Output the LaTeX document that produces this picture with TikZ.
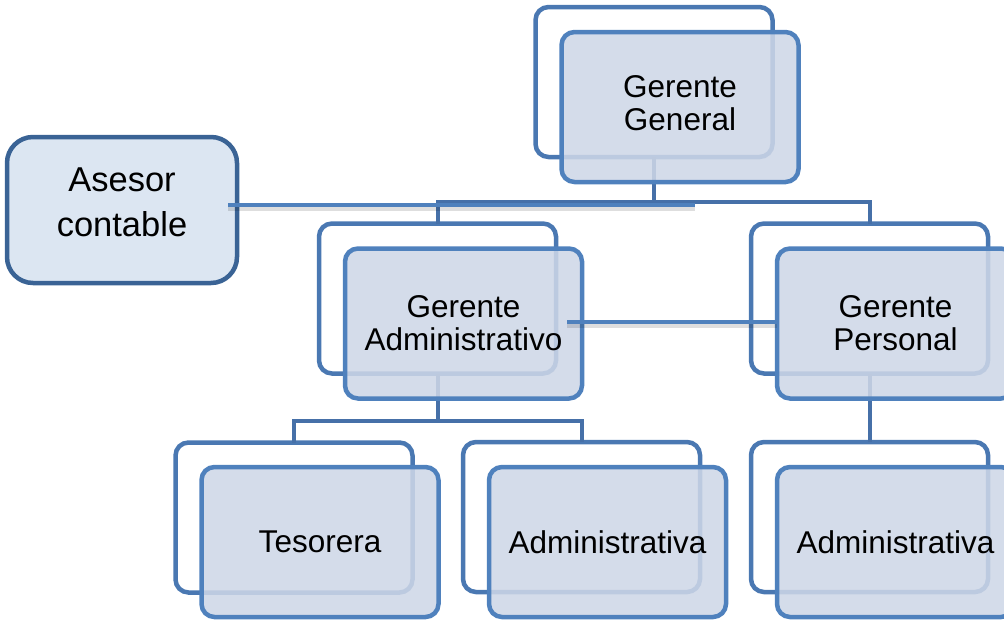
\documentclass[tikz,border=0pt]{standalone}
\usepackage{fontspec}
\setmainfont{Liberation Sans}
\definecolor{boxline}{HTML}{4F81BD}
\definecolor{backline}{HTML}{4A78B2}
\definecolor{connline}{HTML}{4670A8}
\definecolor{frontfill}{HTML}{CED7E7}
\definecolor{asefill}{HTML}{DCE6F2}
\definecolor{aseline}{HTML}{3A6395}
\begin{document}
\begin{tikzpicture}[x=1pt,y=-1pt,
  backbox/.style={draw=backline,line width=4.5pt,fill=white,rounded corners=13pt,
    minimum width=237pt,minimum height=150pt,inner sep=0pt,outer sep=0pt},
  frontbox/.style={draw=boxline,line width=4.5pt,fill=frontfill,fill opacity=0.87,text opacity=1,
    rounded corners=13pt,minimum width=237pt,minimum height=150pt,inner sep=0pt,outer sep=0pt,
    align=center,font=\fontsize{31.5}{33}\selectfont},
  boxtext/.style={inner sep=0pt,align=center,font=\fontsize{31.5}{33}\selectfont},
  asebox/.style={draw=aseline,line width=4.5pt,fill=asefill,rounded corners=26pt,
    minimum width=230pt,minimum height=146pt,inner sep=0pt,outer sep=0pt},
  asetext/.style={inner sep=0pt,align=center,font=\fontsize{34.5}{45}\selectfont},
  conn/.style={draw=connline,line width=4pt},
  cross/.style={draw=boxline,line width=4pt,
    preaction={draw=black,draw opacity=0.13,line width=5pt,transform canvas={yshift=-3pt}}}]
\useasboundingbox (0,0) rectangle (1004,619);
% back boxes
\node[backbox] (ggb) at (654,82) {};
\node[backbox] (gab) at (437.5,298.5) {};
\node[backbox] (gpb) at (869.5,298.5) {};
\node[backbox] (tesb) at (294,517.5) {};
\node[backbox] (admb) at (581.5,517) {};
\node[backbox] (admrb) at (869.5,517) {};
% connectors
\coordinate (bus1) at (654,202);
\coordinate (bus2) at (437.5,421);
\draw[conn] (ggb.south) -- (bus1);
\draw[conn] (gab.north) |- (bus1) -| (gpb.north);
\draw[conn] (gab.south) -- (bus2);
\draw[conn] (tesb.north) |- (bus2) -| (admb.north);
\draw[conn] (gpb.south) -- (admrb.north);
% front boxes
\node[frontbox] (ggf) at (680,107) {};
\node[boxtext] (ggt) at (680,103.5) {Gerente\\General};
\node[frontbox] (gaf) at (463.5,323.5) {Gerente\\Administrativo};
\node[frontbox] (gpf) at (895.5,323.5) {Gerente\\Personal};
\node[frontbox] (tesf) at (320,542) {Tesorera};
\node[frontbox] (admf) at (607.5,542) {Administrativa};
\node[frontbox] (admrf) at (895.5,542) {Administrativa};
% advisor
\node[asebox] (ase) at (122,210) {};
\node[asetext] (aset) at (122,202.5) {Asesor\\contable};
\coordinate (aseend) at (695,205);
\draw[cross] ([xshift=-9pt,yshift=5pt]ase.east) -- (aseend);
\draw[cross] ([xshift=-15pt,yshift=1.5pt]gaf.east) -- ([yshift=1.5pt]gpf.west);
\end{tikzpicture}
\end{document}
